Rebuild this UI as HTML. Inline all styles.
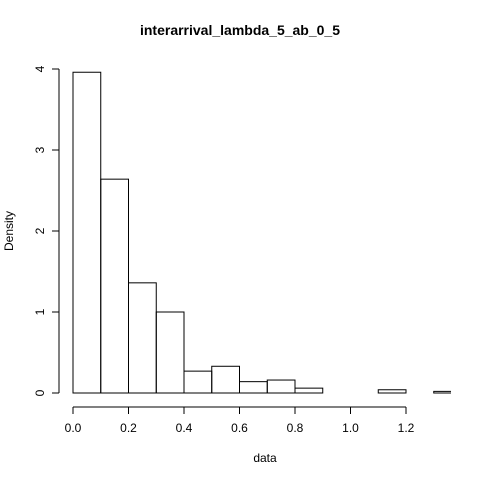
<!DOCTYPE html>
<html><head><meta charset="utf-8"><style>
html,body{margin:0;padding:0;background:#fff;}
svg{display:block;font-family:"Liberation Sans",sans-serif;}
</style></head><body>
<svg id="chart" width="480" height="480">
<defs><clipPath id="plotclip"><rect x="59" y="59" width="392" height="335"/></clipPath></defs>
<text x="240" y="35" text-anchor="middle" font-weight="bold" font-size="14">interarrival_lambda_5_ab_0_5</text>
<text x="265" y="462" text-anchor="middle" font-size="12">data</text>
<text transform="translate(13,231) rotate(-90)" text-anchor="middle" font-size="12">Density</text>
<g id="bars" clip-path="url(#plotclip)"></g>
<g id="xaxis"></g>
<g id="yaxis"></g>
</svg>
<script>
const breaks = [0,0.1,0.2,0.3,0.4,0.5,0.6,0.7,0.8,0.9,1.0,1.1,1.2,1.3,1.4];
const densities = [3.96,2.64,1.36,1.0,0.27,0.33,0.14,0.16,0.06,0,0,0.04,0,0.02];
const xTicks = [0,0.2,0.4,0.6,0.8,1.0,1.2];
const xTickLabels = ["0.0","0.2","0.4","0.6","0.8","1.0","1.2"];
const yTicks = [0,1,2,3,4];
const ns = "http://www.w3.org/2000/svg";
function xs(v){return 73 + v*277.5;}
function ys(v){return 393 - v*81;}
function mk(tag, attrs, parent){const e=document.createElementNS(ns,tag);for(const k in attrs)e.setAttribute(k,attrs[k]);parent.appendChild(e);return e;}
const bars=document.getElementById('bars');
for(let i=0;i<densities.length;i++){
  const x0=xs(breaks[i]), x1=xs(breaks[i+1]), y=ys(densities[i]);
  const r=mk('rect',{x:x0,y:y,width:x1-x0,height:ys(0)-y,fill:'none',stroke:'#000','stroke-width':1},bars);
  
  
}
const xa=document.getElementById('xaxis');
mk('line',{x1:xs(0),x2:xs(1.2),y1:407,y2:407,stroke:'#000'},xa);
xTicks.forEach((t,i)=>{
  mk('line',{x1:xs(t),x2:xs(t),y1:407,y2:414,stroke:'#000'},xa);
  const tx=mk('text',{x:xs(t),y:432,'text-anchor':'middle','font-size':12},xa);
  tx.textContent=xTickLabels[i];
  
  
});
const ya=document.getElementById('yaxis');
mk('line',{x1:59,x2:59,y1:ys(0),y2:ys(4),stroke:'#000'},ya);
yTicks.forEach(t=>{
  mk('line',{x1:52,x2:59,y1:ys(t),y2:ys(t),stroke:'#000'},ya);
  const tx=mk('text',{transform:`translate(44,${ys(t)}) rotate(-90)`,'text-anchor':'middle','font-size':12},ya);
  tx.textContent=String(t);
  
  
});
</script>
</body></html>
